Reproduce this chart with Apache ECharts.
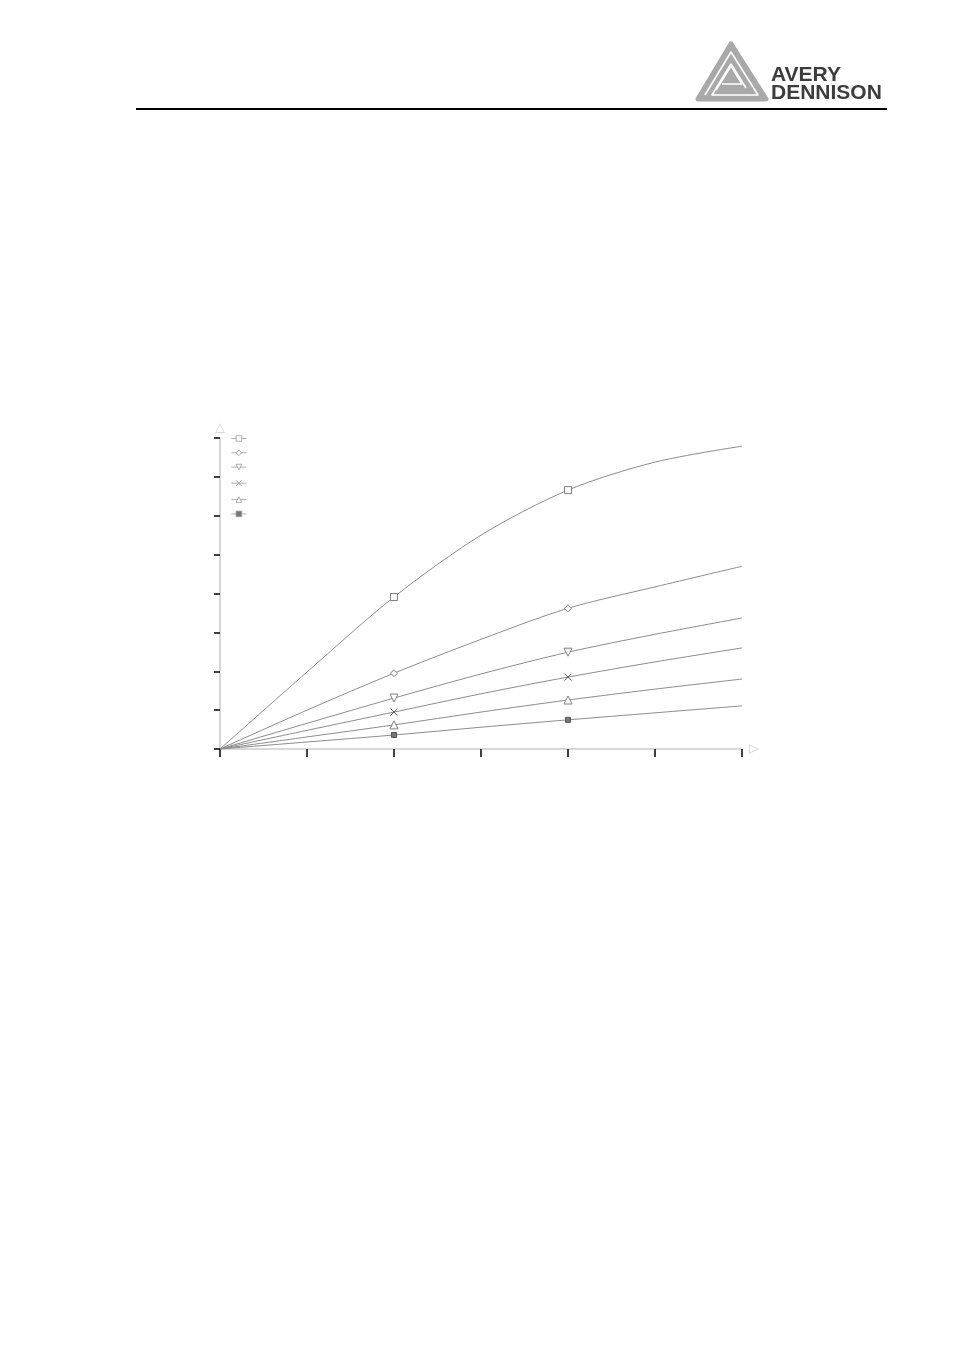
<!DOCTYPE html>
<html>
<head>
<meta charset="utf-8">
<script src="https://cdn.jsdelivr.net/npm/echarts@6/dist/echarts.min.js"></script>
<style>
  html, body { margin: 0; padding: 0; background: #fff; }
  #main { width: 954px; height: 1351px; }
</style>
</head>
<body>
<div id="main"></div>
<script>
// values, y in tick units (0..8), x in tick units (0..6)
const xValues = [0, 1, 2, 3, 4, 5, 6];
const squareVals = [0, 1.98, 3.91, 5.50, 6.66, 7.38, 7.79];
const diamondVals = [0, 1.00, 1.95, 2.82, 3.62, 4.17, 4.70];
const triDownVals = [0, 0.66, 1.31, 1.93, 2.49, 2.95, 3.37];
const crossVals = [0, 0.48, 0.95, 1.42, 1.85, 2.24, 2.60];
const triUpVals = [0, 0.31, 0.62, 0.95, 1.26, 1.54, 1.80];
const starVals = [0, 0.18, 0.36, 0.56, 0.75, 0.93, 1.11];
const markedIdx = [2, 4];

const chart = echarts.init(document.getElementById('main'));

const lineGrey = '#8c8c8c';
const arrowPath = 'path://M5,0L10,10L0,10Z M5,2L1.4,9.1L8.6,9.1Z';

function makeSeries(name, vals, symbol, size, opts) {
  return Object.assign({
    name: name,
    type: 'line',
    smooth: 0.3,
    symbol: symbol,
    symbolSize: size,
    showAllSymbol: true,
    lineStyle: { color: lineGrey, width: 1 },
    itemStyle: { color: '#fff', borderColor: '#808080', borderWidth: 1 },
    emphasis: { disabled: true },
    data: xValues.map(function (x, i) {
      const item = { value: [x, vals[i]] };
      if (markedIdx.indexOf(i) < 0) item.symbol = 'none';
      return item;
    })
  }, opts || {});
}

const option = {
  backgroundColor: '#fff',
  animation: false,
  grid: { left: 220, right: 212, top: 438, bottom: 602 },
  legend: {
    orient: 'vertical',
    left: 226,
    top: 430,
    itemWidth: 15,
    itemHeight: 7,
    itemGap: 7.6,
    formatter: function () { return ''; },
    textStyle: { fontSize: 8 },
    lineStyle: { width: 0.8, color: '#999' },
    itemStyle: { borderColor: '#999', borderWidth: 0.8 },
    data: ['s1', 's2', 's3', 's4', 's5', 's6']
  },
  xAxis: {
    type: 'value',
    min: 0,
    max: 6,
    interval: 1,
    axisLine: {
      show: true,
      lineStyle: { color: '#d8d8d8', width: 2 },
      symbol: ['none', arrowPath],
      symbolSize: [10, 11],
      symbolOffset: [0, 12]
    },
    axisTick: { show: true, length: 8, lineStyle: { color: '#000', width: 1.5 } },
    axisLabel: { show: false },
    splitLine: { show: false }
  },
  yAxis: {
    type: 'value',
    min: 0,
    max: 8,
    interval: 1,
    axisLine: {
      show: true,
      lineStyle: { color: '#d8d8d8', width: 2 },
      symbol: ['none', arrowPath],
      symbolSize: [10, 11],
      symbolOffset: [0, 10]
    },
    axisTick: { show: true, length: 6, lineStyle: { color: '#000', width: 1.5 } },
    axisLabel: { show: false },
    splitLine: { show: false }
  },
  series: [
    makeSeries('s1', squareVals, 'rect', 7),
    makeSeries('s2', diamondVals, 'diamond', 7),
    makeSeries('s3', triDownVals, 'triangle', 8, { symbolRotate: 180 }),
    makeSeries('s4', crossVals, 'path://M0,0L10,10M10,0L0,10', 7,
      { itemStyle: { color: 'none', borderColor: '#555', borderWidth: 1 } }),
    makeSeries('s5', triUpVals, 'triangle', 8),
    makeSeries('s6', starVals, 'rect', 5,
      { itemStyle: { color: '#777', borderColor: '#555', borderWidth: 1 } })
  ],
  graphic: [
    // header rule
    { type: 'line', shape: { x1: 136, y1: 109, x2: 887, y2: 109 },
      style: { stroke: '#000', lineWidth: 2 } },
    // logo mark
    { type: 'polygon', shape: { points: [[731, 44], [766, 99], [698, 99]] },
      style: { fill: '#a9a9a9', stroke: '#a9a9a9', lineWidth: 5, lineJoin: 'round' } },
    { type: 'polyline', shape: { points: [[705, 95], [731, 52], [758, 95], [712, 95], [731, 64], [746, 88]] },
      style: { fill: 'none', stroke: '#fff', lineWidth: 1.6, lineJoin: 'round' } },
    { type: 'polyline', shape: { points: [[716, 90], [731, 66], [742, 84], [722, 84]] },
      style: { fill: 'none', stroke: '#fff', lineWidth: 1.6, lineJoin: 'round' } },
    { type: 'text', left: 771, top: 65,
      style: { text: 'AVERY', fill: '#3c3c3c', font: 'bold 21px "Liberation Sans", Arial, sans-serif' } },
    { type: 'text', left: 771, top: 83,
      style: { text: 'DENNISON', fill: '#3c3c3c', font: 'bold 21px "Liberation Sans", Arial, sans-serif' } }
  ]
};

chart.setOption(option);
</script>
</body>
</html>
